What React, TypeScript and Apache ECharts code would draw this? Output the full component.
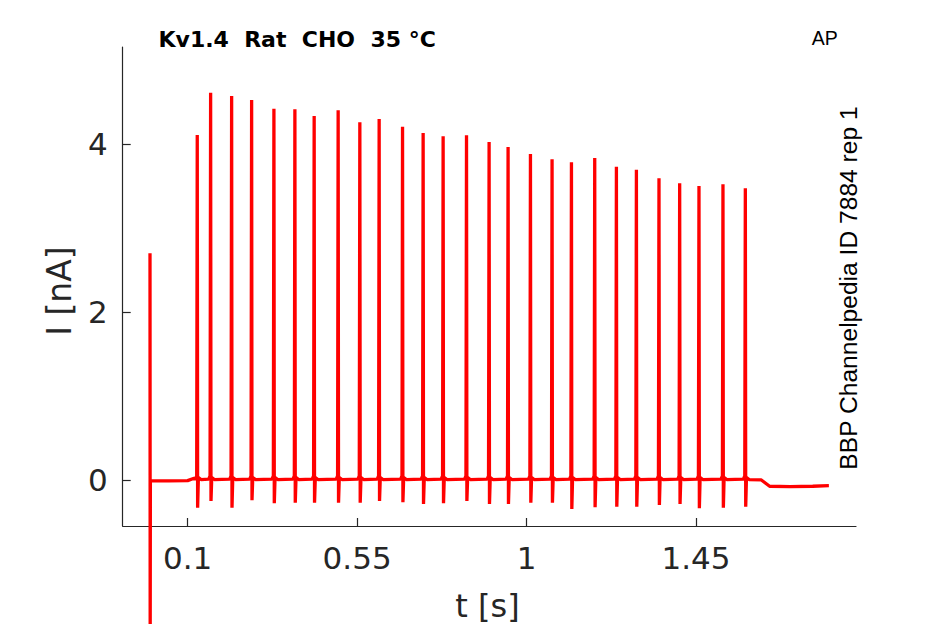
import React, { useEffect, useRef } from "react";
import * as echarts from "echarts";

// ---- data ----
// stimulus artefact at t = 0
const stimTime = 0;
const stimPeak = 2.7;
const stimDip = -1.9;

// baseline before the first spike
const preTimes = [0.001, 0.05, 0.1, 0.117];
const preValues = [-0.01, -0.01, -0.008, 0.02];

// action-potential evoked current spikes
const spikeTimes = [
  0.1255, 0.161, 0.2168, 0.2699, 0.3291, 0.3848, 0.436, 0.4997, 0.5573,
  0.6086, 0.6707, 0.7254, 0.7785, 0.8406, 0.9006, 0.951, 1.0104, 1.0678,
  1.1193, 1.1811, 1.2387, 1.2918, 1.3518, 1.4067, 1.458, 1.5217, 1.5811,
];
const spikePeaks = [
  4.107, 4.611, 4.571, 4.524, 4.42, 4.413, 4.333, 4.401, 4.258, 4.298, 4.206,
  4.131, 4.092, 4.104, 4.024, 3.964, 3.881, 3.818, 3.782, 3.833, 3.73, 3.694,
  3.592, 3.532, 3.5, 3.52, 3.473,
];
const spikeDips = [
  -0.33, -0.25, -0.33, -0.242, -0.277, -0.27, -0.27, -0.27, -0.27, -0.25,
  -0.265, -0.286, -0.277, -0.25, -0.286, -0.286, -0.27, -0.27, -0.345, -0.325,
  -0.318, -0.318, -0.298, -0.286, -0.337, -0.33, -0.318,
];
// shape of a spike around its peak time
const spikeShapeDt = [-0.005, -0.0015, 0, 0.001, 0.003, 0.01];
const spikeShapeBase = [0.01, 0.05, null, null, 0.03, 0.005];

// tail after the train
const tailTimes = [1.6236, 1.6456, 1.7, 1.76, 1.803];
const tailValues = [0.0, -0.075, -0.08, -0.075, -0.068];

// ticks
const xTicks = [0.1, 0.55, 1, 1.45];
const yTicks = [0, 2, 4];

function buildTrace(): [number, number][] {
  const tr: [number, number][] = [];
  tr.push([stimTime, stimPeak], [stimTime + 0.0005, stimDip]);
  preTimes.forEach((t, i) => tr.push([t, preValues[i]]));
  spikeTimes.forEach((t, i) => {
    spikeShapeDt.forEach((dt, k) => {
      let v = spikeShapeBase[k] as number | null;
      if (k === 2) v = spikePeaks[i];
      if (k === 3) v = spikeDips[i];
      tr.push([t + dt, v as number]);
    });
  });
  tailTimes.forEach((t, i) => tr.push([t, tailValues[i]]));
  return tr;
}

const axisColor = "#262626";
const font = '"DejaVu Sans"';

export default function App() {
  const ref = useRef<HTMLDivElement>(null);
  useEffect(() => {
    document.body.style.margin = "0";
    const chart = echarts.init(ref.current!, null, { renderer: "svg" });
    chart.setOption({
      animation: false,
      grid: { left: 122.7, top: 47, right: 89, bottom: 98, containLabel: false },
      xAxis: {
        type: "value",
        min: -0.0725,
        max: 1.875,
        axisLine: { show: true, onZero: false, lineStyle: { color: axisColor, width: 1.2 } },
        axisTick: { show: true, inside: true, length: 8, customValues: xTicks, lineStyle: { color: axisColor, width: 1.2 } },
        axisLabel: {
          customValues: xTicks,
          fontSize: 31,
          fontFamily: font,
          color: axisColor,
          margin: 16,
          formatter: (v: number) => String(v),
        },
        splitLine: { show: false },
      },
      yAxis: {
        type: "value",
        min: -0.548,
        max: 5.155,
        axisLine: { show: true, onZero: false, lineStyle: { color: axisColor, width: 1.2 } },
        axisTick: { show: true, inside: true, length: 8, customValues: yTicks, lineStyle: { color: axisColor, width: 1.2 } },
        axisLabel: {
          customValues: yTicks,
          fontSize: 31,
          fontFamily: font,
          color: axisColor,
          margin: 15,
          formatter: (v: number) => String(v),
        },
        splitLine: { show: false },
      },
      series: [
        {
          type: "line",
          data: buildTrace(),
          showSymbol: false,
          symbol: "none",
          clip: false,
          lineStyle: { color: "#ff0000", width: 3.3, join: "bevel" },
        },
      ],
      graphic: [
        {
          type: "text",
          x: 158.5,
          y: 39.5,
          style: {
            text: "Kv1.4  Rat  CHO  35 °C",
            fontFamily: font,
            fontWeight: "bold",
            fontSize: 22,
            fill: "#000",
            align: "left",
            verticalAlign: "middle",
          },
        },
        {
          type: "text",
          x: 811.7,
          y: 38.4,
          style: {
            text: "AP",
            fontFamily: '"Liberation Sans"',
            fontSize: 19.5,
            fill: "#000",
            align: "left",
            verticalAlign: "middle",
          },
        },
        {
          type: "text",
          x: 848.3,
          y: 288,
          rotation: Math.PI / 2,
          style: {
            text: "BBP Channelpedia ID 7884 rep 1",
            fontFamily: '"Liberation Sans"',
            fontSize: 24.6,
            fill: "#000",
            align: "center",
            verticalAlign: "middle",
          },
        },
        {
          type: "text",
          x: 59.2,
          y: 291,
          rotation: Math.PI / 2,
          style: {
            text: "I [nA]",
            fontFamily: font,
            fontSize: 33,
            fill: axisColor,
            align: "center",
            verticalAlign: "middle",
          },
        },
        {
          type: "text",
          x: 487.5,
          y: 606,
          style: {
            text: "t [s]",
            fontFamily: font,
            fontSize: 32,
            fill: axisColor,
            align: "center",
            verticalAlign: "middle",
          },
        },
      ],
    });
    return () => chart.dispose();
  }, []);
  return <div ref={ref} style={{ width: 945, height: 624 }} />;
}
